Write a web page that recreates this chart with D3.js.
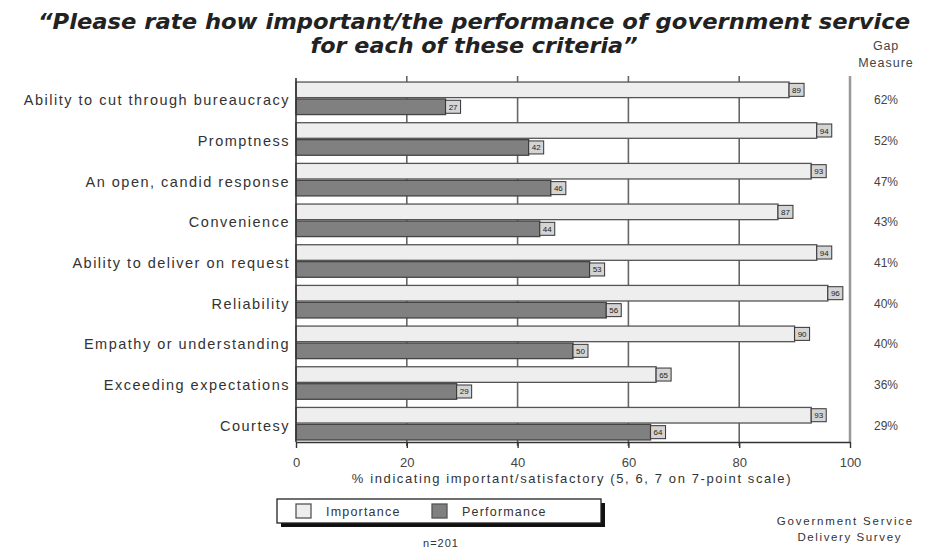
<!DOCTYPE html>
<html>
<head>
<meta charset="utf-8">
<script src="https://cdn.jsdelivr.net/npm/d3@7"></script>
<style>
  html, body { margin: 0; padding: 0; background: #fff; }
  svg { display: block; font-family: "Liberation Sans", Arial, sans-serif; }
</style>
</head>
<body>
<svg id="chart" width="938" height="552"></svg>
<script>
// Criteria, ordered by gap size
const categories = [
  "Ability to cut through bureaucracy",
  "Promptness",
  "An open, candid response",
  "Convenience",
  "Ability to deliver on request",
  "Reliability",
  "Empathy or understanding",
  "Exceeding expectations",
  "Courtesy"
];
const importance  = [89, 94, 93, 87, 94, 96, 90, 65, 93];
const performance = [27, 42, 46, 44, 53, 56, 50, 29, 64];
const gapMeasure  = ["62%", "52%", "47%", "43%", "41%", "40%", "40%", "36%", "29%"];
const xTicks = [0, 20, 40, 60, 80, 100];
const seriesNames = ["Importance", "Performance"];

const svg = d3.select("#chart");
const plotL = 296, plotR = 850, plotT = 80, plotB = 442;

const x = d3.scaleLinear().domain([0, 100]).range([plotL, plotR]);
const y = d3.scaleBand().domain(categories).range([plotT, plotB]).paddingInner(0.2).paddingOuter(0.05);
const sub = d3.scaleBand().domain(seriesNames).range([0, y.bandwidth()]).paddingInner(0.08);

const fills = { Importance: "#eeeeee", Performance: "#808080" };
const strokes = { Importance: "#555", Performance: "#444" };

// Title
const titleFont = "'DejaVu Sans', 'Liberation Sans', sans-serif";
svg.append("text")
  .attr("x", 474).attr("y", 29)
  .attr("text-anchor", "middle")
  .attr("font-family", titleFont)
  .attr("font-size", 21).attr("font-weight", "bold").attr("font-style", "italic")
  .attr("fill", "#222")
  .attr("textLength", 872).attr("lengthAdjust", "spacingAndGlyphs")
  .text("\u201CPlease rate how important/the performance of government service");
svg.append("text")
  .attr("x", 474).attr("y", 53)
  .attr("text-anchor", "middle")
  .attr("font-family", titleFont)
  .attr("font-size", 21).attr("font-weight", "bold").attr("font-style", "italic")
  .attr("fill", "#222")
  .attr("textLength", 327).attr("lengthAdjust", "spacingAndGlyphs")
  .text("for each of these criteria\u201D");

// Gap Measure header
svg.append("text").attr("x", 886).attr("y", 50).attr("text-anchor", "middle")
  .attr("font-size", 12.5).attr("letter-spacing", 0.8).attr("fill", "#444").text("Gap");
svg.append("text").attr("x", 886).attr("y", 67).attr("text-anchor", "middle")
  .attr("font-size", 12.5).attr("letter-spacing", 1).attr("fill", "#444").text("Measure");

// Gridlines
svg.append("g").selectAll("line")
  .data(xTicks.filter(d => d > 0 && d < 100))
  .join("line")
  .attr("x1", d => x(d)).attr("x2", d => x(d))
  .attr("y1", plotT - 4).attr("y2", plotB + 4)
  .attr("stroke", "#666").attr("stroke-width", 1.6);

// Right boundary
svg.append("line")
  .attr("x1", plotR).attr("x2", plotR).attr("y1", plotT - 4).attr("y2", plotB)
  .attr("stroke", "#999").attr("stroke-width", 2.5);

// Bars
const rows = svg.append("g").selectAll("g")
  .data(categories.map((c, i) => ({ c, i })))
  .join("g")
  .attr("transform", d => `translate(0,${y(d.c)})`);

const barData = d => [
  { s: "Importance", v: importance[d.i] },
  { s: "Performance", v: performance[d.i] }
];

rows.selectAll("rect.bar")
  .data(barData)
  .join("rect")
  .attr("class", "bar")
  .attr("x", x(0))
  .attr("y", d => sub(d.s))
  .attr("width", d => x(d.v) - x(0))
  .attr("height", sub.bandwidth())
  .attr("fill", d => fills[d.s])
  .attr("stroke", d => strokes[d.s])
  .attr("stroke-width", 1.3);

// Value tags at bar ends
const tags = rows.selectAll("g.tag")
  .data(barData)
  .join("g")
  .attr("class", "tag")
  .attr("transform", d => `translate(${x(d.v)},${sub(d.s) + sub.bandwidth() / 2})`);
tags.append("rect")
  .attr("x", 0).attr("y", -6.5).attr("width", 15).attr("height", 13)
  .attr("fill", "#d4d4d4").attr("stroke", "#333").attr("stroke-width", 1);
tags.append("text")
  .attr("x", 7.5).attr("y", 3)
  .attr("text-anchor", "middle")
  .attr("font-size", 8).attr("fill", "#222")
  .text(d => d.v);

// Category labels
svg.append("g").selectAll("text")
  .data(categories)
  .join("text")
  .attr("x", 290)
  .attr("y", d => y(d) + y.bandwidth() / 2 + 7)
  .attr("text-anchor", "end")
  .attr("font-size", 14.5).attr("letter-spacing", 1.5).attr("fill", "#333")
  .text(d => d);

// Gap values
svg.append("g").selectAll("text")
  .data(categories)
  .join("text")
  .attr("x", 886)
  .attr("y", (d, i) => y(d) + y.bandwidth() / 2 + 6)
  .attr("text-anchor", "middle")
  .attr("font-size", 12).attr("fill", "#444")
  .text((d, i) => gapMeasure[i]);

// Left and bottom axes
svg.append("line").attr("x1", plotL).attr("x2", plotL).attr("y1", plotT - 2).attr("y2", plotB)
  .attr("stroke", "#333").attr("stroke-width", 1.6);
const xAxis = svg.append("g")
  .attr("transform", `translate(0,${plotB})`)
  .call(d3.axisBottom(x).tickValues(xTicks).tickSize(6).tickSizeOuter(0));
xAxis.select(".domain").attr("stroke", "#333").attr("stroke-width", 1.6);
xAxis.selectAll(".tick line").attr("stroke", "#333").attr("stroke-width", 1.4);
xAxis.selectAll(".tick text")
  .attr("font-family", "Liberation Sans, Arial, sans-serif")
  .attr("font-size", 13).attr("fill", "#444").attr("dy", "1.2em");

svg.append("text")
  .attr("x", 572).attr("y", 483)
  .attr("text-anchor", "middle")
  .attr("font-size", 13).attr("letter-spacing", 1.6).attr("fill", "#333")
  .text("% indicating important/satisfactory (5, 6, 7 on 7-point scale)");

// Legend
const legend = svg.append("g").attr("transform", "translate(277,499)");
legend.append("rect").attr("x", 4).attr("y", 4).attr("width", 324).attr("height", 24).attr("fill", "#111");
legend.append("rect").attr("x", 0).attr("y", 0).attr("width", 324).attr("height", 24)
  .attr("fill", "#fff").attr("stroke", "#222").attr("stroke-width", 1.3);
const legendX = [19, 155];
seriesNames.forEach((s, i) => {
  legend.append("rect").attr("x", legendX[i]).attr("y", 5).attr("width", 15).attr("height", 14)
    .attr("fill", fills[s]).attr("stroke", "#555").attr("stroke-width", 1.3);
  legend.append("text").attr("x", legendX[i] + 30).attr("y", 17)
    .attr("font-size", 12.5).attr("letter-spacing", 1.2).attr("fill", "#333").text(s);
});

svg.append("text").attr("x", 441).attr("y", 547).attr("text-anchor", "middle")
  .attr("font-size", 11).attr("letter-spacing", 1).attr("fill", "#333").text("n=201");

svg.append("text").attr("x", 914).attr("y", 525).attr("text-anchor", "end")
  .attr("font-size", 11.5).attr("letter-spacing", 1.8).attr("fill", "#333").text("Government Service");
svg.append("text").attr("x", 902).attr("y", 541).attr("text-anchor", "end")
  .attr("font-size", 11.5).attr("letter-spacing", 1.6).attr("fill", "#333").text("Delivery Survey");
</script>
</body>
</html>
